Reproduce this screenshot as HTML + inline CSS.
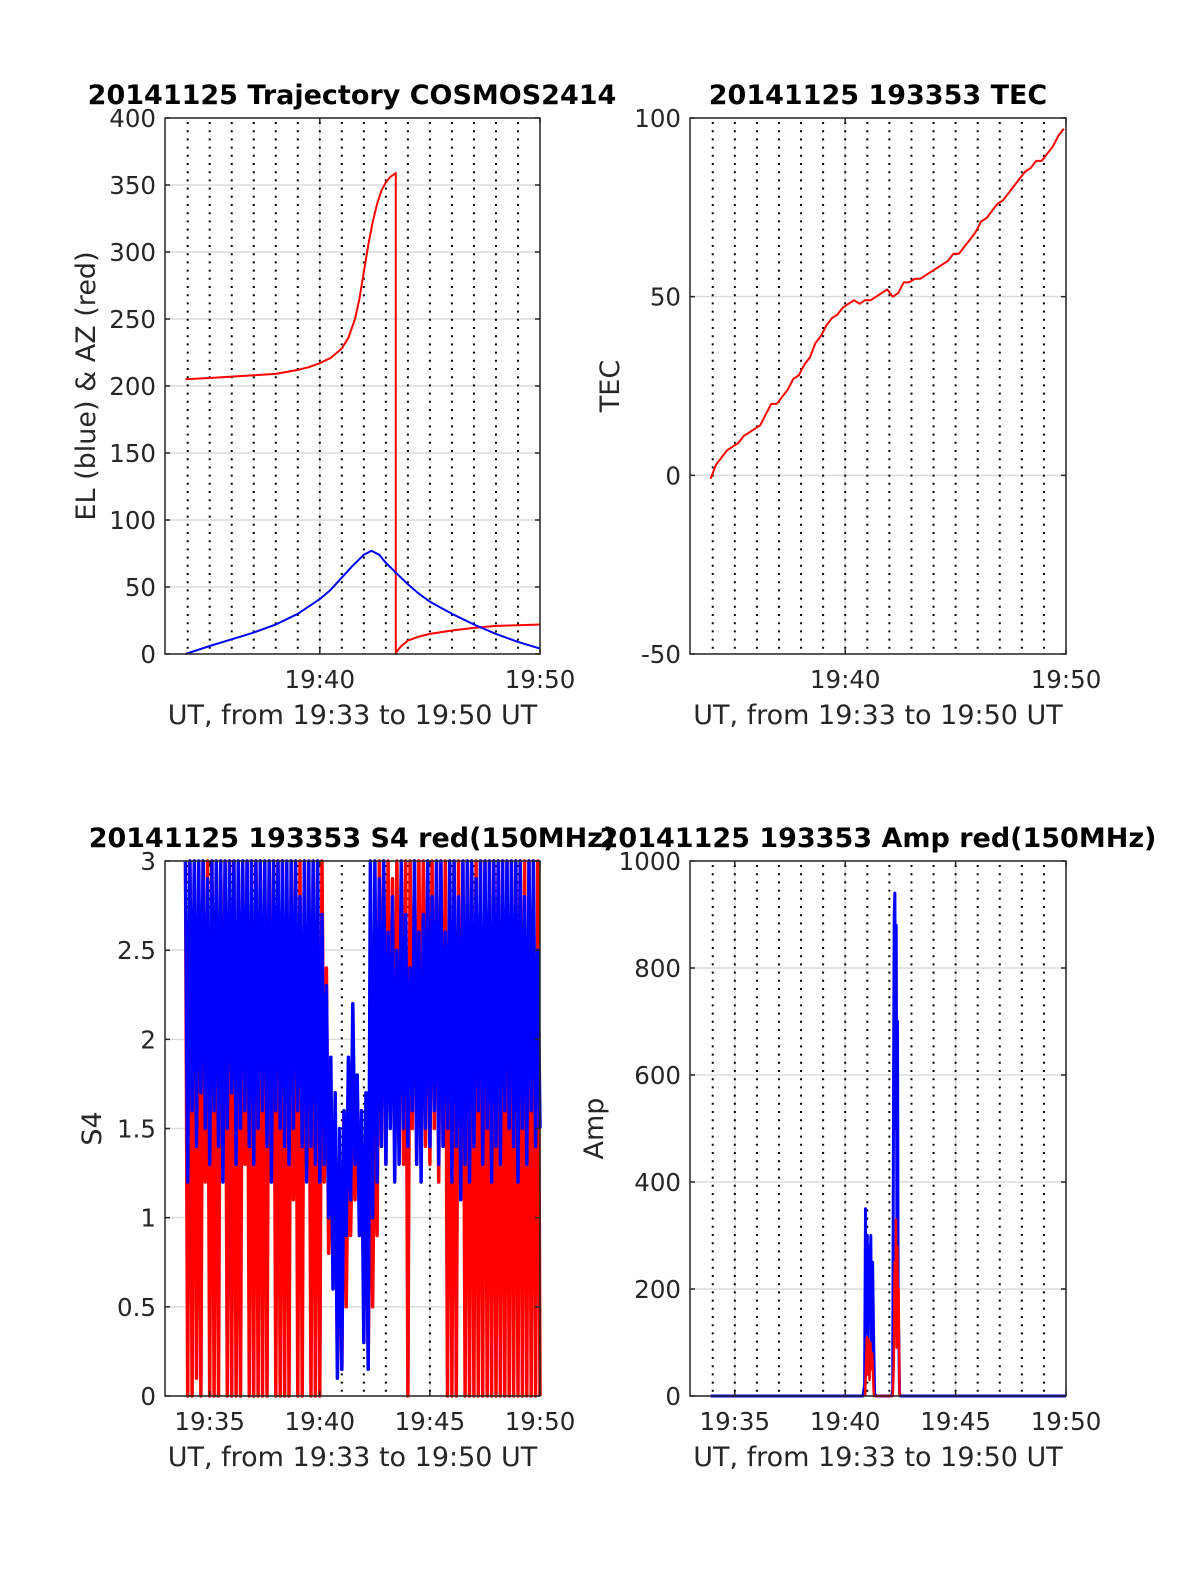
<!DOCTYPE html>
<html><head><meta charset="utf-8">
<style>
body{margin:0;background:#fff;}
svg{display:block;font-family:"DejaVu Sans","Liberation Sans",sans-serif;}
.tk{font-size:24.5px;fill:#262626;}
.ttl{font-size:27px;font-weight:bold;fill:#000;}
</style></head>
<body>
<svg id="fig" width="1200" height="1575" viewBox="0 0 1200 1575" xmlns="http://www.w3.org/2000/svg"></svg>
<script>
// ---------- data ----------
const tDomain = [32.97, 50];
const azT = [33.9, 35, 36, 37, 38, 39, 39.5, 40, 40.5, 41, 41.3, 41.6, 41.8, 42.0, 42.2, 42.4, 42.6, 42.8, 43.0, 43.2, 43.45];
const azV = [205, 206, 207, 208, 209, 212, 214, 217, 221, 228, 236, 250, 265, 285, 305, 322, 336, 346, 352, 356, 359];
const az2T = [43.45, 43.5, 43.7, 44.0, 44.5, 45, 46, 47, 48, 49, 50];
const az2V = [0, 2, 6, 10, 13, 15, 17.5, 19.5, 21, 21.5, 22];
const elT = [33.9, 35, 36, 37, 38, 39, 40, 40.5, 41, 41.5, 42, 42.35, 42.7, 43, 43.5, 44, 44.5, 45, 46, 47, 48, 49, 50];
const elV = [0, 6, 11, 16, 22, 30, 41, 48, 57, 66, 74, 77, 74, 68, 60, 52, 45, 39, 30, 22, 15, 9, 4];
const tecStart = 33.9, tecStep = 0.25;
const tecV = [-1,3,5,7,8,9,11,12,13,14,17,20,20,22,24,27,28,31,33,37,39,42,44,45,47,48,49,48,49,49,50,51,52,50,51,54,54,55,55,56,57,58,59,60,62,62,64,66,68,71,72,74,76,77,79,81,83,85,86,88,88,90,92,95,97];
const s4Start = 33.9, s4Step = 0.2;
const redHi = [3,3,3,2.4,3,3,3,2.6,3,3,3,3,2.2,3,3,3,3,3,2.5,3,3,3,3,2.8,3,3,3,3,2.7,3,3,3,2.4,1.5,1.4,1.2,1.6,1.5,1.6,1.7,1.5,1.6,1.6,1.7,3,3,3,2.9,3,3,3,3,3,3,3,3,3,3,3,3,3,3,3,3,3,3,3,3,3,3,3,3,3,3,3,3,3,3,3,3,3];
const redLo = [0,0,0.1,0,1.2,0,0,0,1.4,0,0,0,0,1.3,0,0,0,0,0,1.2,0,0,0,0,1.1,0,0,1.3,0,0,0,1.2,0.8,0.7,0.2,0.15,0.5,0.9,1.1,1.2,0.6,0.2,0.5,0.9,1.4,1.3,1.5,1.6,1.4,1.3,0,1.5,1.3,1.6,1.4,1.3,1.5,1.2,1.4,0,0,0,1.2,0,0,0,0,0,0,0,0,0,0,0,0,0,0,0,0,0,0];
const blueHi = [3,3,3,3,3,2.9,3,3,3,3,3,3,3,3,3,3,3,3,3,3,3,3,3,3,3,3,2.8,3,3,3,3,2.7,2.3,1.9,1.7,1.5,1.6,1.9,2.2,1.8,1.6,1.7,3,3,2.9,3,2.6,2.8,2.5,3,2.7,2.4,3,2.6,2.7,3,2.8,3,3,2.6,3,3,2.8,3,3,3,2.9,3,3,3,3,3,3,3,3,3,3,2.8,3,3,2.5];
const blueLo = [1.2,1.6,1.4,1.7,1.5,1.3,1.6,1.4,1.2,1.5,1.7,1.3,1.5,1.6,1.4,1.3,1.5,1.6,1.4,1.2,1.6,1.5,1.4,1.3,1.5,1.6,1.4,1.2,1.4,1.3,1.2,1.3,1.0,0.6,0.1,0.15,0.9,1.1,1.3,0.9,0.3,0.15,1.0,1.2,1.4,1.3,1.5,1.2,1.3,1.5,1.4,1.6,1.3,1.2,1.5,1.4,1.6,1.3,1.4,1.5,1.2,1.4,1.1,1.3,1.2,1.4,1.6,1.3,1.5,1.2,1.4,1.3,1.6,1.5,1.4,1.2,1.5,1.3,1.6,1.4,1.5];
const ampBT = [33.9,40.8,40.88,40.92,40.96,41.0,41.04,41.08,41.12,41.16,41.2,41.24,41.28,41.33,41.4,42.1,42.15,42.19,42.22,42.25,42.28,42.31,42.34,42.37,42.4,42.43,42.46,42.5,50];
const ampBV = [0,0,20,350,120,300,100,280,180,300,60,250,120,5,0,0,10,600,900,940,500,880,300,700,150,100,5,0,0];
const ampRT = [40.9,40.98,41.02,41.06,41.1,41.14,41.18,41.22,41.3,42.15,42.2,42.24,42.27,42.3,42.33,42.36,42.39,42.42,42.46];
const ampRV = [0,110,40,105,30,100,50,80,0,0,60,250,150,330,90,280,120,200,0];

// ---------- helpers ----------
const NS = "http://www.w3.org/2000/svg";
const fig = document.getElementById('fig');
function mk(tag, attrs, parent) {
  const e = document.createElementNS(NS, tag);
  for (const k in attrs) e.setAttribute(k, attrs[k]);
  (parent || fig).appendChild(e);
  return e;
}
function txt(s, attrs, parent) { const e = mk('text', attrs, parent); e.textContent = s; return e; }

function makeAxes(cfg) {
  const g = mk('g', {});
  
  
  const X = t => cfg.x0 + (t - tDomain[0]) / (tDomain[1] - tDomain[0]) * (cfg.x1 - cfg.x0);
  const Y = v => cfg.y1 - (v - cfg.ymin) / (cfg.ymax - cfg.ymin) * (cfg.y1 - cfg.y0);
  cfg.yticks.forEach(v => {
    const l = mk('line', {x1: cfg.x0, x2: cfg.x1, y1: Y(v), y2: Y(v), stroke: '#dcdcdc', 'stroke-width': 1.5}, g);
    
    
  });
  cfg.xticks.forEach(t => {
    const l = mk('line', {x1: X(t), x2: X(t), y1: cfg.y0, y2: cfg.y1, stroke: '#dcdcdc', 'stroke-width': 1.5}, g);
    
    
  });
  for (let m = 34; m <= 49; m++) {
    const l = mk('line', {x1: X(m), x2: X(m), y1: cfg.y0 + 4, y2: cfg.y1, stroke: '#000', 'stroke-width': 2, 'stroke-dasharray': '2 6.2'}, g);
    
    
  }
  return {g, X, Y};
}
function finishAxes(ax, cfg) {
  const g = ax.g, X = ax.X, Y = ax.Y;
  const box = mk('rect', {x: cfg.x0, y: cfg.y0, width: cfg.x1 - cfg.x0, height: cfg.y1 - cfg.y0, fill: 'none', stroke: '#262626', 'stroke-width': 1.5}, g);
  
  
  cfg.yticks.forEach((v, i) => {
    mk('line', {x1: cfg.x0, x2: cfg.x0 + 5, y1: Y(v), y2: Y(v), stroke: '#262626', 'stroke-width': 1.5}, g);
    mk('line', {x1: cfg.x1 - 5, x2: cfg.x1, y1: Y(v), y2: Y(v), stroke: '#262626', 'stroke-width': 1.5}, g);
    const t = txt(cfg.ylabels[i], {x: cfg.x0 - 9, y: Y(v) + 9, 'text-anchor': 'end', class: 'tk'}, g);
    
    
  });
  cfg.xticks.forEach((tt, i) => {
    mk('line', {x1: X(tt), x2: X(tt), y1: cfg.y1 - 5, y2: cfg.y1, stroke: '#262626', 'stroke-width': 1.5}, g);
    mk('line', {x1: X(tt), x2: X(tt), y1: cfg.y0, y2: cfg.y0 + 5, stroke: '#262626', 'stroke-width': 1.5}, g);
    const t = txt(cfg.xlabels[i], {x: X(tt), y: cfg.y1 + 34, 'text-anchor': 'middle', class: 'tk'}, g);
    
    
  });
  const xl = txt('UT, from 19:33 to 19:50 UT', {x: (cfg.x0 + cfg.x1) / 2, y: cfg.y1 + 70, 'text-anchor': 'middle', class: 'tk', style: 'font-size:27px'}, g);
  
  
  const yc = (cfg.y0 + cfg.y1) / 2;
  const yl = txt(cfg.ylabel, {x: cfg.ylx, y: yc, 'text-anchor': 'middle', class: 'tk', style: 'font-size:27px', transform: `rotate(-90 ${cfg.ylx} ${yc})`}, g);
  
  
  const ti = txt(cfg.title, {x: cfg.tx, y: cfg.y0 - 14, 'text-anchor': 'middle', class: 'ttl'}, g);
  
  
}
function polyline(ax, ts, vs, color, w, name) {
  const pts = ts.map((t, i) => ax.X(t).toFixed(1) + ',' + ax.Y(vs[i]).toFixed(1)).join(' ');
  const p = mk('polyline', {points: pts, fill: 'none', stroke: color, 'stroke-width': w, 'stroke-linejoin': 'round'}, ax.g);
  
  
  return p;
}

const c1 = {name: 'trajectory-chart', x0: 165, x1: 540, y0: 118, y1: 654, ymin: 0, ymax: 400,
  yticks: [0,50,100,150,200,250,300,350,400], ylabels: ['0','50','100','150','200','250','300','350','400'],
  xticks: [40,50], xlabels: ['19:40','19:50'], ylabel: 'EL (blue) & AZ (red)', ylx: 95,
  title: '20141125 Trajectory COSMOS2414', tx: 352};
const a1 = makeAxes(c1);
polyline(a1, azT.concat(az2T), azV.concat(az2V), '#ff0000', 2, 'azimuth-line');
polyline(a1, elT, elV, '#0000ff', 2, 'elevation-line');
finishAxes(a1, c1);

const c2 = {name: 'tec-chart', x0: 690, x1: 1066, y0: 118, y1: 654, ymin: -50, ymax: 100,
  yticks: [-50,0,50,100], ylabels: ['-50','0','50','100'],
  xticks: [40,50], xlabels: ['19:40','19:50'], ylabel: 'TEC', ylx: 619,
  title: '20141125 193353 TEC', tx: 878};
const a2 = makeAxes(c2);
polyline(a2, tecV.map((v, i) => tecStart + i * tecStep), tecV, '#ff0000', 2, 'tec-line');
finishAxes(a2, c2);

const c3 = {name: 's4-chart', x0: 165, x1: 540, y0: 861, y1: 1396, ymin: 0, ymax: 3,
  yticks: [0,0.5,1,1.5,2,2.5,3], ylabels: ['0','0.5','1','1.5','2','2.5','3'],
  xticks: [35,40,45,50], xlabels: ['19:35','19:40','19:45','19:50'], ylabel: 'S4', ylx: 101,
  title: '20141125 193353 S4 red(150MHz)', tx: 352};
const a3 = makeAxes(c3);
function envelope(hi, lo) {
  const ts = [], vs = [];
  hi.forEach((h, i) => {
    const t = s4Start + i * s4Step;
    ts.push(t); vs.push(h);
    ts.push(t + s4Step / 2); vs.push(lo[i]);
  });
  return [ts, vs];
}
const re = envelope(redHi, redLo);
polyline(a3, re[0], re[1], '#ff0000', 3.5, 's4-red-line');
const be = envelope(blueHi, blueLo);
polyline(a3, be[0], be[1], '#0000ff', 3.5, 's4-blue-line');
finishAxes(a3, c3);

const c4 = {name: 'amp-chart', x0: 690, x1: 1066, y0: 861, y1: 1396, ymin: 0, ymax: 1000,
  yticks: [0,200,400,600,800,1000], ylabels: ['0','200','400','600','800','1000'],
  xticks: [35,40,45,50], xlabels: ['19:35','19:40','19:45','19:50'], ylabel: 'Amp', ylx: 603,
  title: '20141125 193353 Amp red(150MHz)', tx: 878};
const a4 = makeAxes(c4);
polyline(a4, ampBT, ampBV, '#0000ff', 3, 'amp-blue-line');
polyline(a4, ampRT, ampRV, '#ff0000', 2.5, 'amp-red-line');
finishAxes(a4, c4);
</script>
</body></html>
